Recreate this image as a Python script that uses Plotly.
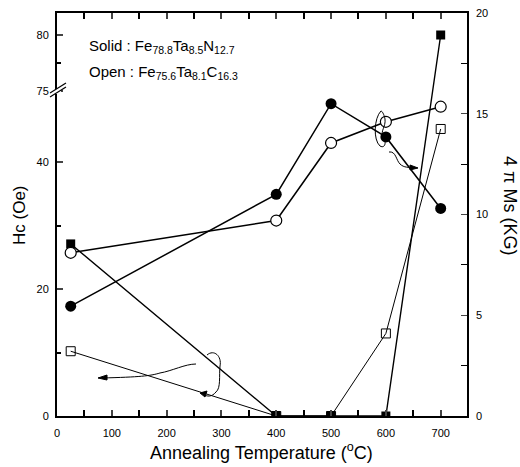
import plotly.graph_objects as go

# ---------------- data ----------------
temps = [25, 400, 500, 600, 700]                 # annealing temperature (°C)
hc_solid = [27.1, 0, 0, 0, 80]                   # Hc (Oe), Fe-Ta-N (solid squares)
hc_open = [10.2, 0, 0, 13.0, 45.2]               # Hc (Oe), Fe-Ta-C (open squares)
ms_solid = [5.45, 11.0, 15.5, 13.85, 10.3]       # 4πMs (kG), Fe-Ta-N (solid circles)
ms_open = [8.1, 9.7, 13.55, 14.6, 15.35]         # 4πMs (kG), Fe-Ta-C (open circles)

x_ticks = [0, 100, 200, 300, 400, 500, 600, 700]
hc_tick_vals = [0, 20, 40, 75, 80]
hc_tick_text = ["0", "20", "40", "75", "80"]
hc_minor_vals = [10, 30, 77.5]
ms_tick_vals = [0, 5, 10, 15, 20]

# broken Hc axis: linear 0..BREAK_AT, then jumps to 75 with a different scale
BREAK_AT = 51.2
UPPER_START = 75
UPPER_SCALE = 1.76


def hc_axis(v):
    return v if v <= BREAK_AT else BREAK_AT + (v - UPPER_START) * UPPER_SCALE


# ---------------- layout geometry ----------------
W, H = 520, 467
L, R, T, B = 57, 53, 13, 51
PW, PH = W - L - R, H - T - B


def px(xp):
    return (xp - L) / PW


def py(yp):
    return (H - B - yp) / PH


FONT = "Liberation Sans, Arial, sans-serif"

fig = go.Figure()

fig.add_trace(go.Scatter(
    x=temps, y=[hc_axis(v) for v in hc_open], mode="lines+markers",
    line=dict(color="black", width=1),
    marker=dict(symbol="square-open", size=9, color="black", line=dict(width=1)),
    yaxis="y", showlegend=False))
fig.add_trace(go.Scatter(
    x=temps, y=[hc_axis(v) for v in hc_solid], mode="lines+markers",
    line=dict(color="black", width=1.4),
    marker=dict(symbol="square", size=9, color="black"),
    yaxis="y", showlegend=False))
fig.add_trace(go.Scatter(
    x=temps, y=ms_open, mode="lines+markers",
    line=dict(color="black", width=1.5),
    marker=dict(symbol="circle", size=11, color="white", line=dict(color="black", width=1.2)),
    yaxis="y2", showlegend=False))
fig.add_trace(go.Scatter(
    x=temps, y=ms_solid, mode="lines+markers",
    line=dict(color="black", width=1.5),
    marker=dict(symbol="circle", size=11, color="black"),
    yaxis="y2", showlegend=False))

fig.update_layout(
    width=W, height=H,
    margin=dict(l=L, r=R, t=T, b=B, pad=0, autoexpand=False),
    paper_bgcolor="white", plot_bgcolor="white",
    font=dict(family=FONT, size=11, color="black"),
    xaxis=dict(
        range=[0, 748], tickvals=x_ticks, ticks="inside", ticklen=6, tickwidth=1.5,
        showline=True, linewidth=2, linecolor="black", mirror="allticks",
        showgrid=False, zeroline=False, tickfont=dict(size=11), ticklabelstandoff=6,
        automargin=False,
        minor=dict(dtick=50, tick0=0, ticks="inside", ticklen=3, tickcolor="black"),
    ),
    yaxis=dict(
        range=[0, PH / 6.35], tickvals=[hc_axis(v) for v in hc_tick_vals], ticktext=hc_tick_text,
        ticks="inside", ticklen=6, tickwidth=1.5,
        showline=True, linewidth=2, linecolor="black", automargin=False,
        showgrid=False, zeroline=False, tickfont=dict(size=11), ticklabelstandoff=4,
        minor=dict(tickmode="array", tickvals=[hc_axis(v) for v in hc_minor_vals],
                   ticks="inside", ticklen=4, tickcolor="black"),
    ),
    yaxis2=dict(
        range=[0, 20], overlaying="y", side="right", tickvals=ms_tick_vals,
        ticks="inside", ticklen=6, tickwidth=1.2,
        showline=True, linewidth=1.5, linecolor="black", automargin=False,
        showgrid=False, zeroline=False, tickfont=dict(size=11), ticklabelstandoff=5,
        minor=dict(dtick=2.5, tick0=0, ticks="inside", ticklen=6, tickcolor="black"),
    ),
)

# axis titles placed as annotations for exact positioning
fig.add_annotation(text="Annealing Temperature (<sup>o</sup>C)", xref="paper", yref="paper",
                   x=px(261), y=py(451), xanchor="center", yanchor="middle",
                   showarrow=False, font=dict(size=18))
fig.add_annotation(text="Hc (Oe)", xref="paper", yref="paper",
                   x=px(19), y=py(215), xanchor="center", yanchor="middle",
                   textangle=-90, showarrow=False, font=dict(size=17))
fig.add_annotation(text="4 π Ms (KG)", xref="paper", yref="paper",
                   x=px(510), y=py(205), xanchor="center", yanchor="middle",
                   textangle=90, showarrow=False, font=dict(size=18))

# composition labels
fig.add_annotation(text="Solid : Fe<sub>78.8</sub>Ta<sub>8.5</sub>N<sub>12.7</sub>",
                   xref="paper", yref="paper", x=px(87), y=py(46),
                   xanchor="left", yanchor="middle", showarrow=False, font=dict(size=15))
fig.add_annotation(text="Open : Fe<sub>75.6</sub>Ta<sub>8.1</sub>C<sub>16.3</sub>",
                   xref="paper", yref="paper", x=px(87), y=py(72),
                   xanchor="left", yanchor="middle", showarrow=False, font=dict(size=15))


def path(points_cmd):
    out = []
    for tok in points_cmd:
        if isinstance(tok, str):
            out.append(tok)
        else:
            out.append(f"{px(tok[0]):.4f},{py(tok[1]):.4f}")
    return " ".join(out)


shapes = []
# axis break marks on the Hc axis
shapes.append(dict(type="rect", xref="paper", yref="paper", layer="above",
                   x0=px(54), x1=px(61), y0=py(94), y1=py(89),
                   fillcolor="white", line=dict(width=0)))
for dy in (0, 4):
    shapes.append(dict(type="line", xref="paper", yref="paper", layer="above",
                       x0=px(50), y0=py(97 - dy), x1=px(66), y1=py(87 - dy),
                       line=dict(color="black", width=1.2)))

# hand-drawn pointers: squares -> left (Hc) axis
shapes.append(dict(type="path", xref="paper", yref="paper", line=dict(color="black", width=1),
                   path=path(["M", (196, 364), "C", (185, 364), (172, 371), (160, 373),
                              "C", (150, 376), (140, 377), (102, 378)])))
shapes.append(dict(type="path", xref="paper", yref="paper", line=dict(color="black", width=1),
                   fillcolor="black",
                   path=path(["M", (98, 378), "L", (107, 375), "L", (107, 380), "Z"])))
shapes.append(dict(type="path", xref="paper", yref="paper", line=dict(color="black", width=1),
                   path=path(["M", (207, 355), "C", (214, 349), (222, 356), (220, 366),
                              "C", (219, 376), (221, 388), (216, 392),
                              "C", (212, 397), (207, 397), (203, 394)])))
shapes.append(dict(type="path", xref="paper", yref="paper", line=dict(color="black", width=1),
                   fillcolor="black",
                   path=path(["M", (200, 393), "L", (207, 391), "L", (205, 397), "Z"])))

# hand-drawn pointers: circles -> right (Ms) axis
shapes.append(dict(type="path", xref="paper", yref="paper", line=dict(color="black", width=1),
                   path=path(["M", (381, 111), "C", (374, 118), (373, 140), (380, 146),
                              "C", (385, 149), (387, 142), (383, 137),
                              "C", (380, 131), (386, 127), (385, 119),
                              "C", (384, 114), (382, 111), (381, 111)])))
shapes.append(dict(type="path", xref="paper", yref="paper", line=dict(color="black", width=1),
                   path=path(["M", (389, 152), "C", (396, 151), (396, 160), (400, 164),
                              "C", (404, 168), (409, 167), (413, 168)])))
shapes.append(dict(type="path", xref="paper", yref="paper", line=dict(color="black", width=1),
                   fillcolor="black",
                   path=path(["M", (418, 168), "L", (410, 165), "L", (410, 170), "Z"])))

fig.update_layout(shapes=shapes)

fig.write_html("out.html")
